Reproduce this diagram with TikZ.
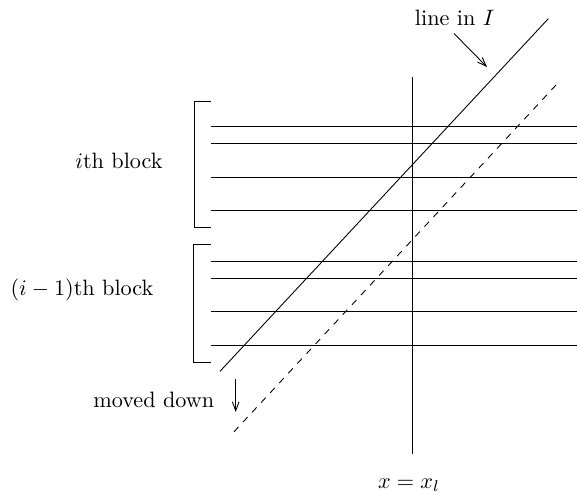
\documentclass[tikz,border=0pt]{standalone}
\usetikzlibrary{arrows.meta}
\begin{document}
\begin{tikzpicture}[x=0.45pt,y=-0.45pt,
  lbl/.style={inner sep=0pt,anchor=center},
  hline/.style={line width=0.4pt},
  brk/.style={line width=0.4pt},
  pointer/.style={-{Straight Barb[length=4pt,width=3pt]}}]
\useasboundingbox (0,0) rectangle (577,494);
% horizontal lines
\foreach \y/\n in {126.7/a,143.3/b,177.3/c,210.7/d,261.7/e,278.3/f,311.7/g,345.3/h}{
  \coordinate (L\n) at (210.7,\y);
  \coordinate (R\n) at (577,\y);
  \draw[hline] (L\n) -- (R\n);
}
% brackets
\coordinate (b1t) at (210.7,101);
\coordinate (b1b) at (210.7,227.7);
\draw[brk] (b1t) -- (194,101) -- (194,227.7) -- (b1b);
\coordinate (b2t) at (210.7,244.7);
\coordinate (b2b) at (210.7,362);
\draw[brk] (b2t) -- (193.5,244.7) -- (193.5,362) -- (b2b);
% vertical line
\coordinate (vt) at (412.3,76.7);
\coordinate (vb) at (412.3,454.3);
\draw (vt) -- (vb);
% line in I
\coordinate (s1) at (548.3,18.7);
\coordinate (s2) at (220,371.3);
\draw (s1) -- (s2);
% dashed moved line
\coordinate (d1) at (556,85);
\coordinate (d2) at (231,435);
\draw[dashed] (d1) -- (d2);
% labels
\node[lbl] (lineI) at (454.7,18) {line in $I$};
\coordinate (lineIstart) at (454,33.5);
\coordinate (lineItip) at (487,67);
\draw[pointer] (lineIstart) -- (lineItip);
\node[lbl] (ith) at (119,161) {$i$th block};
\node[lbl] (i1th) at (82,290) {$(i-1)$th block};
\node[lbl] (moved) at (153.8,399.5) {moved down};
\coordinate (mdt) at (235.7,379.3);
\coordinate (mdb) at (235.7,412);
\draw[pointer] (mdt) -- (mdb);
\node[lbl] (xl) at (409,485) {$x=x_l$};
\end{tikzpicture}
\end{document}
